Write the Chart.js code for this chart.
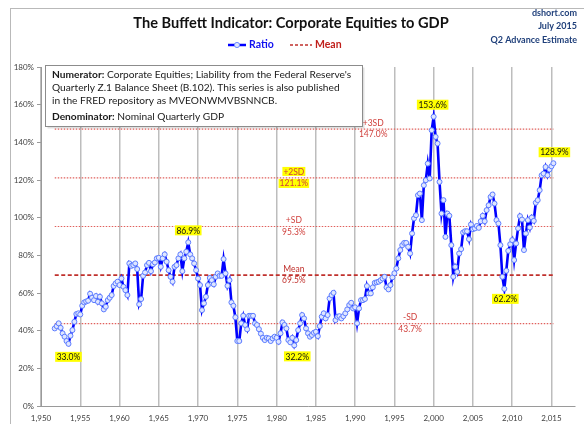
<!DOCTYPE html>
<html>
<head>
<meta charset="utf-8">
<script src="https://cdn.jsdelivr.net/npm/chart.js@4"></script>
<style>
  html, body { margin: 0; padding: 0; background: #ffffff; }
  canvas { display: block; }
</style>
</head>
<body>
<canvas id="c" width="584" height="424" style="width:584px;height:424px"></canvas>
<script>
// ---------------- DATA ----------------
const chartTitle = 'The Buffett Indicator: Corporate Equities to GDP';
const sourceLines = ['dshort.com', 'July 2015', 'Q2 Advance Estimate'];
const firstQuarter = 1951.75;           // 1951 Q4, quarterly observations
const quarterStep = 0.25;
const ratio = [
  41.2, 42.4, 43.9, 41.5, 38.6, 36.8, 34.5, 33.0, 37.3, 40.3,
  44.7, 48.8, 49.2, 48.6, 53.2, 55.0, 55.5, 55.9, 59.6, 57.5,
  56.2, 58.4, 55.3, 58.0, 54.5, 51.3, 52.7, 56.2, 57.5, 58.9,
  63.7, 65.1, 66.0, 64.2, 67.7, 63.3, 61.5, 58.9, 75.7, 74.4,
  74.8, 75.7, 72.7, 54.0, 56.8, 69.1, 70.9, 74.8, 76.0, 71.6,
  75.2, 76.2, 78.4, 78.7, 73.9, 78.4, 80.5,
  76.6, 72.1, 68.6, 66.0, 73.9, 74.8, 78.4, 80.5, 71.6, 78.4,
  81.9, 86.9, 80.5, 78.4, 75.7, 72.1, 67.7, 64.2, 50.9, 54.5,
  58.0, 64.2, 68.0, 66.8, 64.6, 68.6, 70.4, 69.1, 69.1, 78.0,
  70.4, 63.8, 66.8, 55.0, 53.2, 47.1, 34.5, 34.5, 43.9, 47.9,
  43.0, 40.7, 47.9, 47.9, 47.9, 43.9, 43.0, 40.8, 38.4, 36.2,
  35.0, 36.2, 35.9, 34.5, 35.9, 36.8, 36.2, 34.1, 38.6, 44.4,
  43.0, 41.2, 35.0, 33.8, 36.2, 32.2, 35.0, 40.3,
  43.9, 48.3, 46.5, 41.2, 38.6, 36.8, 37.7, 38.9, 39.4, 37.1,
  42.4, 47.4, 49.2, 46.5, 48.3, 57.1, 58.9, 60.1, 45.6, 47.4,
  47.7, 46.5, 47.7, 49.2, 51.3, 53.6, 54.8, 51.8, 52.4, 43.9,
  51.8, 56.2, 56.2, 56.8, 63.7, 59.8, 59.8, 63.0, 65.4, 65.7,
  66.0, 66.8, 67.7, 68.6, 63.0, 61.9, 64.2, 68.3, 70.5, 73.0,
  78.4, 82.8, 85.4, 86.6, 86.6, 84.5, 81.0, 91.6, 99.6, 101.3,
  111.9, 112.8, 98.7, 117.2, 119.9, 128.7, 120.8, 146.4, 153.6, 142.9,
  139.4, 119.0, 102.2, 109.3, 89.8, 102.2, 101.0, 85.4, 68.6, 73.9,
  71.2, 81.0, 83.3, 92.1, 92.8, 92.8, 88.6, 96.4, 93.9, 94.3,
  95.6, 94.6, 98.1, 101.0, 98.1, 104.0, 106.6, 111.0, 112.3, 107.5,
  98.7, 96.9, 85.4, 68.6, 62.2,
  71.8, 82.4, 85.9, 88.1, 77.5, 86.3, 94.3, 100.8, 99.0, 82.8,
  91.6, 98.7, 94.8, 100.1, 98.3, 107.9, 109.3, 114.6, 122.5, 123.4,
  126.9, 122.5, 125.6, 127.3, 128.9
];
const sdNames  = ['+3SD', '+2SD', '+SD', 'Mean', '-SD'];
const sdValues = [147.0, 121.1, 95.3, 69.5, 43.7];
const xTickValues = [1950, 1955, 1960, 1965, 1970, 1975, 1980, 1985, 1990, 1995, 2000, 2005, 2010, 2015];
const yTickValues = [0, 20, 40, 60, 80, 100, 120, 140, 160, 180];
const calloutIndex = [7, 68, 122, 193, 229, 254];   // highlighted observations
const noteLines = [
  [['Numerator:', true], [' Corporate Equities; Liability from the Federal Reserve\'s', false]],
  [['Quarterly Z.1 Balance Sheet (B.102). This series is also published', false]],
  [['in the FRED repository as MVEONWMVBSNNCB.', false]],
  [['Denominator:', true], [' Nominal Quarterly GDP', false]]
];

// ---------------- STYLE / LAYOUT ----------------
const FONT = 'Lato, "Open Sans", "DejaVu Sans", sans-serif';
const quarterX = ratio.map((_, i) => firstQuarter + i * quarterStep);
const lastX = quarterX[quarterX.length - 1];
const sdLabelYear = { '+3SD': 1992.3, '+2SD': 1982.2, '+SD': 1982.2, 'Mean': 1982.2, '-SD': 1997.0 };
const calloutStyle = [
  { dx: 0, dy: 13 }, { dx: 0, dy: -12 }, { dx: 3, dy: 11 },
  { dx: -1, dy: -12 }, { dx: 1, dy: 10 }, { dx: 1, dy: -11 }
];

const sdDatasets = sdValues.map((v, k) => ({
  label: sdNames[k],
  data: [{ x: firstQuarter, y: v }, { x: lastX, y: v }],
  borderColor: sdNames[k] === 'Mean' ? '#c0302c' : '#e0605c',
  borderWidth: sdNames[k] === 'Mean' ? 1.6 : 1.2,
  borderDash: sdNames[k] === 'Mean' ? [4, 2.5] : [1.5, 1.5],
  pointRadius: 0,
  fill: false,
  order: 2
}));

const decorPlugin = {
  id: 'decor',
  beforeDraw(chart) {
    const c = chart.ctx;
    c.save();
    c.fillStyle = '#ffffff';
    c.fillRect(0, 0, chart.width, chart.height);
    c.strokeStyle = '#b9b9b9';
    c.lineWidth = 1;
    c.strokeRect(10.5, 8.5, 700, 600);
    c.restore();
  },
  afterDraw(chart) {
    const c = chart.ctx;
    const xs = chart.scales.x, ys = chart.scales.y;
    c.save();
    // title
    c.fillStyle = '#111111';
    c.font = 'bold 14.6px ' + FONT;
    c.textAlign = 'center';
    c.textBaseline = 'middle';
    c.fillText(chartTitle, 291, 23);
    // source lines
    c.fillStyle = '#1f3f7a';
    c.font = 'bold 9px ' + FONT;
    c.textAlign = 'right';
    sourceLines.forEach((t, i) => c.fillText(t, 577, 13 + i * 13.5));
    // legend
    const ly = 45;
    c.strokeStyle = '#0000ff';
    c.lineWidth = 2.5;
    c.beginPath(); c.moveTo(228, ly); c.lineTo(246, ly); c.stroke();
    c.beginPath(); c.arc(237, ly, 2.6, 0, Math.PI * 2);
    c.fillStyle = '#dfe6ff'; c.fill();
    c.lineWidth = 1; c.strokeStyle = '#6f8dff'; c.stroke();
    c.font = 'bold 10.5px ' + FONT;
    c.textAlign = 'left';
    c.fillStyle = '#1010f0';
    c.fillText('Ratio', 249, ly);
    c.strokeStyle = '#c0302c';
    c.lineWidth = 1.6;
    c.setLineDash([3, 2]);
    c.beginPath(); c.moveTo(290, ly); c.lineTo(312, ly); c.stroke();
    c.setLineDash([]);
    c.fillStyle = '#c0201c';
    c.fillText('Mean', 315, ly);

    // SD labels
    c.font = '8.5px ' + FONT;
    c.textAlign = 'center';
    sdValues.forEach((v, k) => {
      const name = sdNames[k];
      const px = xs.getPixelForValue(sdLabelYear[name]);
      const py = ys.getPixelForValue(v);
      const t1 = name, t2 = v.toFixed(1) + '%';
      if (name === '+2SD') {
        c.fillStyle = '#ffff00';
        const w1 = c.measureText(t1).width, w2 = c.measureText(t2).width;
        c.fillRect(px - w1 / 2 - 1, py - 11, w1 + 2, 9);
        c.fillRect(px - w2 / 2 - 1, py + 1, w2 + 2, 9);
      }
      c.fillStyle = name === 'Mean' ? '#c0302c' : '#d0403c';
      c.fillText(t1, px, py - 6);
      c.fillText(t2, px, py + 5.5);
    });

    // callouts
    c.font = '8.5px ' + FONT;
    calloutIndex.forEach((idx, k) => {
      const px = xs.getPixelForValue(quarterX[idx]) + calloutStyle[k].dx;
      const py = ys.getPixelForValue(ratio[idx]) + calloutStyle[k].dy;
      const t = ratio[idx].toFixed(1) + '%';
      const w = c.measureText(t).width;
      c.fillStyle = '#ffff00';
      c.fillRect(px - w / 2 - 1.5, py - 5, w + 3, 10);
      c.fillStyle = '#111111';
      c.fillText(t, px, py + 0.5);
    });

    // note box
    const bx = 45.5, by = 65.5, bw = 317, bh = 61;
    c.fillStyle = 'rgba(0,0,0,0.12)';
    c.fillRect(bx + 2, by + 2, bw, bh);
    c.fillStyle = '#ffffff';
    c.fillRect(bx, by, bw, bh);
    c.strokeStyle = '#8c8c8c';
    c.lineWidth = 1;
    c.strokeRect(bx, by, bw, bh);
    c.textAlign = 'left';
    c.fillStyle = '#1a1a1a';
    const lineY = [75, 88, 101, 117];
    noteLines.forEach((parts, i) => {
      let x = 52;
      parts.forEach(([txt, bold]) => {
        c.font = (bold ? 'bold ' : '') + '10.2px ' + FONT;
        c.fillText(txt, x, lineY[i]);
        x += c.measureText(txt).width;
      });
    });
    c.restore();
  }
};

new Chart(document.getElementById('c'), {
  type: 'line',
  data: {
    datasets: [
      {
        label: 'Ratio',
        data: ratio.map((v, i) => ({ x: quarterX[i], y: v })),
        borderColor: '#0000ff',
        borderWidth: 2.6,
        pointRadius: 2.5,
        pointBackgroundColor: '#dfe6ff',
        pointBorderColor: '#5d7dff',
        pointBorderWidth: 1,
        tension: 0,
        fill: false,
        order: 1
      },
      ...sdDatasets
    ]
  },
  options: {
    responsive: false,
    animation: false,
    devicePixelRatio: 1,
    layout: { padding: { left: 0, top: 67, right: 9, bottom: 0 } },
    plugins: { legend: { display: false }, tooltip: { enabled: false } },
    scales: {
      x: {
        type: 'linear', min: 1950, max: 2018,
        afterFit(s) { s.height = 18; },
        afterBuildTicks(s) { s.ticks = xTickValues.map(v => ({ value: v })); },
        grid: { color: '#bdbdbd', lineWidth: 1.5, drawTicks: false },
        border: { color: '#9a9a9a', width: 1 },
        ticks: { font: { family: FONT, size: 8 }, color: '#404040', padding: 8, maxRotation: 0, autoSkip: false }
      },
      y: {
        min: 0, max: 180,
        afterFit(s) { s.width = 41; },
        afterBuildTicks(s) { s.ticks = yTickValues.map(v => ({ value: v })); },
        grid: { drawOnChartArea: false, drawTicks: true, tickLength: 4, color: '#9a9a9a' },
        border: { color: '#9a9a9a', width: 1 },
        ticks: { callback: v => v + '%', font: { family: FONT, size: 8 }, color: '#404040', padding: 3 }
      }
    }
  },
  plugins: [decorPlugin]
});
</script>
</body>
</html>
